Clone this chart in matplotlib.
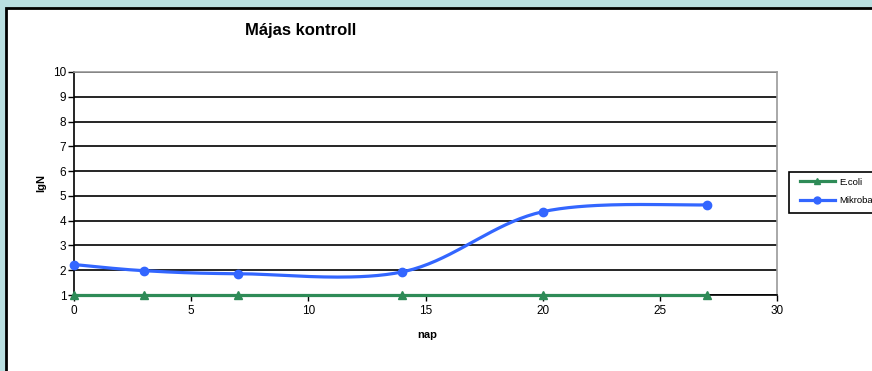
import numpy as np
import matplotlib
matplotlib.use("Agg")
import matplotlib.pyplot as plt
from matplotlib.patches import Rectangle
from matplotlib.lines import Line2D

plt.rcParams['font.family'] = ['Liberation Sans', 'DejaVu Sans']

days = [0, 3, 7, 14, 20, 27]
ecoli = [1, 1, 1, 1, 1, 1]
mikroba = [2.23, 1.98, 1.86, 1.93, 4.36, 4.64]

title = "Májas kontroll"
xlabel = "nap"
ylabel = "lgN"
labels = ["E.coli", "Mikroba"]

green = "#2e8b57"
blue = "#3366ff"


def smooth(xs, ys, n=40):
    """Catmull-Rom curve through the points, like a spreadsheet smoothed line."""
    p = np.column_stack([xs, ys]).astype(float)
    p = np.vstack([p[0], p, p[-1]])
    out = []
    for i in range(1, len(p) - 2):
        p0, p1, p2, p3 = p[i - 1], p[i], p[i + 1], p[i + 2]
        t = np.linspace(0, 1, n)[:, None]
        seg = 0.5 * ((2 * p1) + (-p0 + p2) * t + (2 * p0 - 5 * p1 + 4 * p2 - p3) * t ** 2
                     + (-p0 + 3 * p1 - 3 * p2 + p3) * t ** 3)
        out.append(seg if i == 1 else seg[1:])
    out = np.vstack(out)
    return out[:, 0], out[:, 1]


fig = plt.figure(figsize=(8.72, 3.71), dpi=100)
fig.patch.set_facecolor("#b9dfe1")
# white chart area with a dark frame on the left and top, in pixel coordinates
bg = fig.add_axes([0, 0, 1, 1], zorder=-10)
bg.set_xlim(0, 872)
bg.set_ylim(371, 0)
bg.axis("off")
bg.add_patch(Rectangle((6, 7.5), 900, 400, facecolor="white",
                       edgecolor="black", linewidth=2))
# legend box running past the right edge
bg.add_patch(Rectangle((789, 172), 120, 41, facecolor="white",
                       edgecolor="black", linewidth=1.2))

ax = fig.add_axes([74 / 872, 1 - 295 / 371, 703 / 872, 223 / 371])
ax.set_facecolor("white")
ax.set_xlim(0, 30)
ax.set_ylim(1, 10)
ax.set_xticks(range(0, 31, 5))
ax.set_yticks(range(1, 11))
ax.yaxis.grid(True, color="black", linewidth=1.2)
ax.set_axisbelow(True)
for side in ("top", "right"):
    ax.spines[side].set_color("#999999")
    ax.spines[side].set_linewidth(1.2)
for side in ("left", "bottom"):
    ax.spines[side].set_color("black")
    ax.spines[side].set_linewidth(1.2)
ax.tick_params(axis="both", length=4, width=1, labelsize=8.5, colors="black")
ax.tick_params(axis="y", pad=1.5)
ax.tick_params(axis="x", pad=3.5)

ax.plot(days, ecoli, color=green, linewidth=2.3, marker="^", markersize=6,
        clip_on=False, zorder=3)
sx, sy = smooth(days, mikroba)
ax.plot(sx, sy, color=blue, linewidth=2.3, zorder=4, clip_on=False)
ax.plot(days, mikroba, linestyle="none", color=blue, marker="o", markersize=6,
        clip_on=False, zorder=4)

fig.text(301 / 872, 1 - 31 / 371, title, ha="center", va="center",
         fontsize=12, fontweight="bold")
fig.text(427 / 872, 1 - 335 / 371, xlabel, ha="center", va="center",
         fontsize=8, fontweight="bold")
fig.text(41 / 872, 1 - 183 / 371, ylabel, ha="center", va="center",
         fontsize=8, fontweight="bold", rotation=90)

handles = [Line2D([], [], color=green, linewidth=2.3, marker="^", markersize=5),
           Line2D([], [], color=blue, linewidth=2.3, marker="o", markersize=5)]
leg = fig.legend(handles, labels, loc="upper left",
                 bbox_to_anchor=(794 / 872, 1 - 172 / 371), fontsize=6.8,
                 frameon=False, handlelength=3.7, handletextpad=0.45,
                 borderpad=0.6, labelspacing=1.0, borderaxespad=0)

fig.savefig("out.png", dpi=100, facecolor=fig.get_facecolor())
